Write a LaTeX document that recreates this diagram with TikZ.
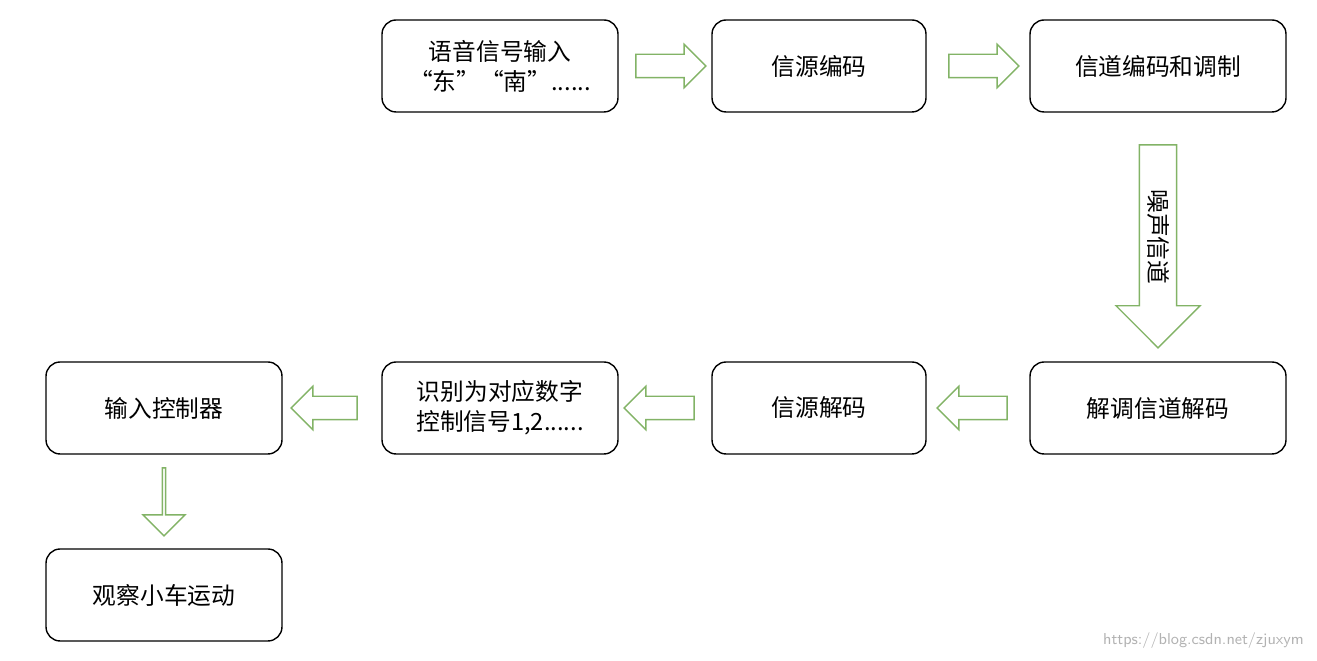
\documentclass[tikz,border=0pt]{standalone}
\usepackage{fontspec}
\setmainfont{Noto Sans CJK SC}
\usetikzlibrary{shapes.arrows}
\definecolor{arrowgreen}{RGB}{130,179,102}
\begin{document}
\begin{tikzpicture}
	[
	x=0.02cm, y=0.02cm,
	font=\fontsize{13.5}{17}\selectfont,
	align=center,
	box/.style={draw=black, thick, rounded corners=8pt, fill=white, minimum height=1.84cm},
	wide/.style={box, minimum width=4.72cm},
	narrow/.style={box, minimum width=4.28cm},
	blockarrow/.style={single arrow, draw=arrowgreen, thick, fill=white, inner sep=0pt,
		single arrow head extend=0.2cm, minimum width=0.84cm, minimum height=1.4cm}
	]
		\useasboundingbox (0,0) rectangle (1317,661);
		% top row
		\node (speech) [wide] at (500,595) {语音信号输入\\“东”“南”......};
		\node (srcenc) [narrow] at (819,595) {信源编码};
		\node (chanenc) [box, minimum width=5.12cm] at (1158,595) {信道编码和调制};
		
		% middle row
		\node (demod) [box, minimum width=5.12cm] at (1158,253) {解调信道解码};
		\node (srcdec) [narrow] at (819,253) {信源解码};
		\node (recog) [wide] at (500,253) {识别为对应数字\\控制信号1,2......};
		\node (ctrl) [wide] at (164,253) {输入控制器};
		
		% bottom
		\node (car) [wide] at (164,66) {观察小车运动};
		
		% block arrows
		\node (a1) [blockarrow, text height=0.44cm] at (665,595) {};
		\node (a2) [blockarrow, text height=0.44cm] at (978,595) {};
		\node (noise) [blockarrow, rotate=-90, minimum height=4.06cm, minimum width=1.68cm,
			single arrow head extend=0.42cm, inner ysep=0.1cm, inner xsep=0.3cm] at (1158,424) {噪声信道};
		\node (a3) [blockarrow, shape border rotate=180, text height=0.44cm] at (978,253) {};
		\node (a4) [blockarrow, shape border rotate=180, text height=0.44cm] at (665,253) {};
		\node (a5) [blockarrow, shape border rotate=180, text height=0.44cm, minimum height=1.32cm] at (330,253) {};
		\node (a6) [blockarrow, shape border rotate=270, text height=0.52cm, single arrow head extend=0.16cm, minimum height=1.36cm] at (164,160) {};
		
		% watermark
		\node (mark) [text=gray!60, font=\sffamily\small, anchor=east] at (1310,20) {https://blog.csdn.net/zjuxym};
	\end{tikzpicture}
\end{document}
